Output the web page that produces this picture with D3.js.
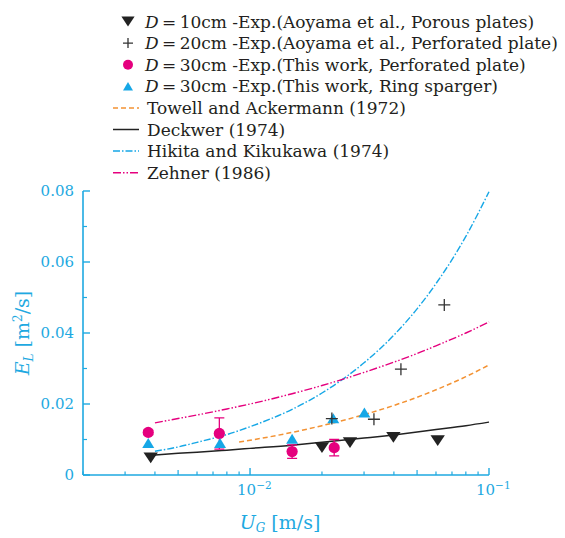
<!DOCTYPE html>
<html><head><meta charset="utf-8">
<script src="https://cdn.jsdelivr.net/npm/d3@7"></script>
<style>body{margin:0;background:#fff}svg text{font-family:"DejaVu Serif",serif}</style>
</head><body><svg id="c" width="565" height="538"></svg>
<script>
// ---- data ----
const d10_UG = [0.00384, 0.0200, 0.0262, 0.0398, 0.0610];
const d10_EL = [0.0048, 0.0077, 0.0091, 0.0106, 0.0097];
const d20_UG = [0.0220, 0.0330, 0.0428, 0.0650];
const d20_EL = [0.0159, 0.0157, 0.0298, 0.0479];
const d30pp_UG = [0.00375, 0.00744, 0.0150, 0.0225];
const d30pp_EL = [0.0120, 0.0117, 0.0066, 0.0077];
const d30pp_ERR = [0.0006, 0.0044, 0.0019, 0.0023];
const d30rs_UG = [0.00375, 0.00749, 0.0150, 0.0223, 0.0301];
const d30rs_EL = [0.0090, 0.0090, 0.0102, 0.0160, 0.0176];

const towell_UG = [0.009, 0.01, 0.015, 0.02, 0.03, 0.04, 0.05, 0.06, 0.08, 0.1];
const towell_EL = [0.0093, 0.0098, 0.0120, 0.0139, 0.0170, 0.0196, 0.0219, 0.0240, 0.0277, 0.0310];
const deckwer_UG = [0.0039, 0.005, 0.006, 0.008, 0.01, 0.015, 0.02, 0.03, 0.04, 0.05, 0.06, 0.08, 0.1];
const deckwer_EL = [0.0056, 0.0061, 0.0064, 0.0070, 0.0075, 0.0084, 0.0092, 0.0104, 0.0113, 0.0121, 0.0128, 0.0139, 0.0149];
const hikita_UG = [0.004, 0.005, 0.006, 0.008, 0.01, 0.015, 0.02, 0.03, 0.04, 0.05, 0.06, 0.08, 0.1];
const hikita_EL = [0.0067, 0.0079, 0.0092, 0.0114, 0.0136, 0.0185, 0.0231, 0.0316, 0.0394, 0.0468, 0.0539, 0.0672, 0.0798];
const zehner_UG = [0.004, 0.005, 0.006, 0.008, 0.01, 0.015, 0.02, 0.03, 0.04, 0.05, 0.06, 0.08, 0.1];
const zehner_EL = [0.0147, 0.0159, 0.0169, 0.0186, 0.0200, 0.0229, 0.0252, 0.0289, 0.0318, 0.0342, 0.0364, 0.0400, 0.0431];

const yTicks = [0, 0.02, 0.04, 0.06, 0.08];
const yTickLabels = ["0", "0.02", "0.04", "0.06", "0.08"];
const xMajor = [0.01, 0.1];
const xMajorExp = ["\u22122", "\u22121"];

const legendLabels = [
  ["D", "\u2009=\u200910cm -Exp.(Aoyama et al., Porous plates)"],
  ["D", "\u2009=\u200920cm -Exp.(Aoyama et al., Perforated plate)"],
  ["D", "\u2009=\u200930cm -Exp.(This work, Perforated plate)"],
  ["D", "\u2009=\u200930cm -Exp.(This work, Ring sparger)"],
  ["", "Towell and Ackermann (1972)"],
  ["", "Deckwer (1974)"],
  ["", "Hikita and Kikukawa (1974)"],
  ["", "Zehner (1986)"]
];

// ---- styles ----
const AX = "#1ea9e1", MAG = "#e5007e", CYAN = "#16a7e6", ORANGE = "#f39233", BLK = "#222";

const svg = d3.select("#c");
const x = d3.scaleLog().domain([0.002, 0.1]).range([83, 489]);
const y = d3.scaleLinear().domain([0, 0.08]).range([475, 191]);

// axes
const gx = svg.append("g").attr("transform", "translate(0,475)");
const minorX = [];
[0.001, 0.01].forEach(b => { for (let k = 2; k <= 9; k++) { const v = b * k; if (v >= 0.002 && v < 0.1) minorX.push(v); } });
gx.append("line").attr("x1", x(0.002)).attr("x2", x(0.1)).attr("stroke", AX).attr("stroke-width", 1.6);
gx.selectAll("line.mn").data(minorX).join("line").attr("class", "mn")
  .attr("x1", d => x(d)).attr("x2", d => x(d)).attr("y1", 0)
  .attr("y2", d => Math.abs(d / Math.pow(10, Math.floor(Math.log10(d) + 1e-9)) - 5) < 1e-6 ? -5 : -3.5)
  .attr("stroke", AX).attr("stroke-width", 1.2);
gx.selectAll("line.mj").data(xMajor).join("line").attr("class", "mj")
  .attr("x1", d => x(d)).attr("x2", d => x(d)).attr("y1", 0).attr("y2", -7)
  .attr("stroke", AX).attr("stroke-width", 1.4);
xMajor.forEach((d, i) => {
  const t = gx.append("text").attr("x", x(d) - 13).attr("y", 20).attr("fill", AX).attr("font-size", 15);
  t.append("tspan").text("10");
  t.append("tspan").attr("dy", -6).attr("font-size", 10.5).text(xMajorExp[i]);
});

const gy = svg.append("g").attr("transform", "translate(83,0)");
gy.append("line").attr("y1", y(0)).attr("y2", y(0.08)).attr("stroke", AX).attr("stroke-width", 1.6);
const yMinor = [0.01, 0.03, 0.05, 0.07];
gy.selectAll("line.mn").data(yMinor).join("line").attr("class", "mn")
  .attr("y1", d => y(d)).attr("y2", d => y(d)).attr("x1", 0).attr("x2", 4).attr("stroke", AX).attr("stroke-width", 1.2);
gy.selectAll("line.mj").data(yTicks).join("line").attr("class", "mj")
  .attr("y1", d => y(d)).attr("y2", d => y(d)).attr("x1", 0).attr("x2", 7).attr("stroke", AX).attr("stroke-width", 1.4);
gy.selectAll("text").data(yTicks).join("text")
  .attr("x", -9).attr("y", d => y(d) + 5).attr("text-anchor", "end")
  .attr("fill", AX).attr("font-size", 15).text((d, i) => yTickLabels[i]);

// axis titles
const xt = svg.append("text").attr("x", 280).attr("y", 529).attr("text-anchor", "middle").attr("fill", AX).attr("font-size", 19);
xt.append("tspan").attr("font-style", "italic").text("U");
xt.append("tspan").attr("font-style", "italic").attr("font-size", 12).attr("dy", 3).text("G");
xt.append("tspan").attr("dy", -3).text(" [m/s]");
const yt = svg.append("text").attr("transform", "translate(29,333) rotate(-90)").attr("text-anchor", "middle").attr("fill", AX).attr("font-size", 19);
yt.append("tspan").attr("font-style", "italic").text("E");
yt.append("tspan").attr("font-style", "italic").attr("font-size", 12).attr("dy", 4).text("L");
yt.append("tspan").attr("dy", -4).text(" [m");
yt.append("tspan").attr("dy", -7).attr("font-size", 12).text("2");
yt.append("tspan").attr("dy", 7).text("/s]");

// curves
const line = d3.line().x(d => x(d[0])).y(d => y(d[1])).curve(d3.curveMonotoneX);
const curves = [
  [towell_UG, towell_EL, ORANGE, "5,3", 1.5],
  [deckwer_UG, deckwer_EL, BLK, null, 1.5],
  [hikita_UG, hikita_EL, CYAN, "7,2,1.5,2", 1.4],
  [zehner_UG, zehner_EL, MAG, "8,2,1.5,2,1.5,2", 1.4]
];
curves.forEach(([xs, ys, c, dash, w]) => {
  svg.append("path").datum(xs.map((v, i) => [v, ys[i]])).attr("d", line)
    .attr("fill", "none").attr("stroke", c).attr("stroke-width", w).attr("stroke-dasharray", dash);
});

// marker helpers
function triDown(g, cx, cy, s) { g.append("path").attr("d", `M${cx - s * 0.6},${cy - s * 0.45}L${cx + s * 0.6},${cy - s * 0.45}L${cx},${cy + s * 0.45}Z`).attr("fill", BLK); }
function triUp(g, cx, cy, s) { g.append("path").attr("d", `M${cx - s * 0.5},${cy + s * 0.42}L${cx + s * 0.5},${cy + s * 0.42}L${cx},${cy - s * 0.42}Z`).attr("fill", CYAN); }
function plus(g, cx, cy, s) { g.append("path").attr("d", `M${cx - s / 2},${cy}H${cx + s / 2}M${cx},${cy - s / 2}V${cy + s / 2}`).attr("stroke", "#333").attr("stroke-width", 1.3).attr("fill", "none"); }
function circ(g, cx, cy, r) { g.append("circle").attr("cx", cx).attr("cy", cy).attr("r", r).attr("fill", MAG); }

const gm = svg.append("g");
// error bars
d30pp_UG.forEach((u, i) => {
  const cx = x(u), y1 = y(d30pp_EL[i] + d30pp_ERR[i]), y2 = y(d30pp_EL[i] - d30pp_ERR[i]);
  gm.append("path").attr("d", `M${cx},${y1}V${y2}M${cx - 5},${y1}H${cx + 5}M${cx - 5},${y2}H${cx + 5}`)
    .attr("stroke", MAG).attr("stroke-width", 1.3).attr("fill", "none");
});
d30pp_UG.forEach((u, i) => circ(gm, x(u), y(d30pp_EL[i]), 5.6));
d30rs_UG.forEach((u, i) => triUp(gm, x(u), y(d30rs_EL[i]), 12));
d10_UG.forEach((u, i) => triDown(gm, x(u), y(d10_EL[i]), 12));
d20_UG.forEach((u, i) => plus(gm, x(u), y(d20_EL[i]), 12));

// legend
const lg = svg.append("g");
legendLabels.forEach((lab, i) => {
  const cy = 21.5 + i * 21.6;
  if (i === 0) triDown(lg, 128, cy, 11);
  if (i === 1) plus(lg, 128, cy, 10);
  if (i === 2) circ(lg, 128, cy, 5);
  if (i === 3) triUp(lg, 128, cy, 10);
  if (i >= 4) {
    const c = curves[i - 4];
    lg.append("line").attr("x1", 113).attr("x2", 139).attr("y1", cy).attr("y2", cy)
      .attr("stroke", c[2]).attr("stroke-width", 1.5).attr("stroke-dasharray", c[3]);
  }
  const t = lg.append("text").attr("x", i < 4 ? 145 : 147).attr("y", cy + 6).attr("font-size", 17).attr("fill", "#231f20");
  if (lab[0]) t.append("tspan").attr("font-style", "italic").text(lab[0]);
  t.append("tspan").text(lab[1]);
});
</script>
</body></html>
